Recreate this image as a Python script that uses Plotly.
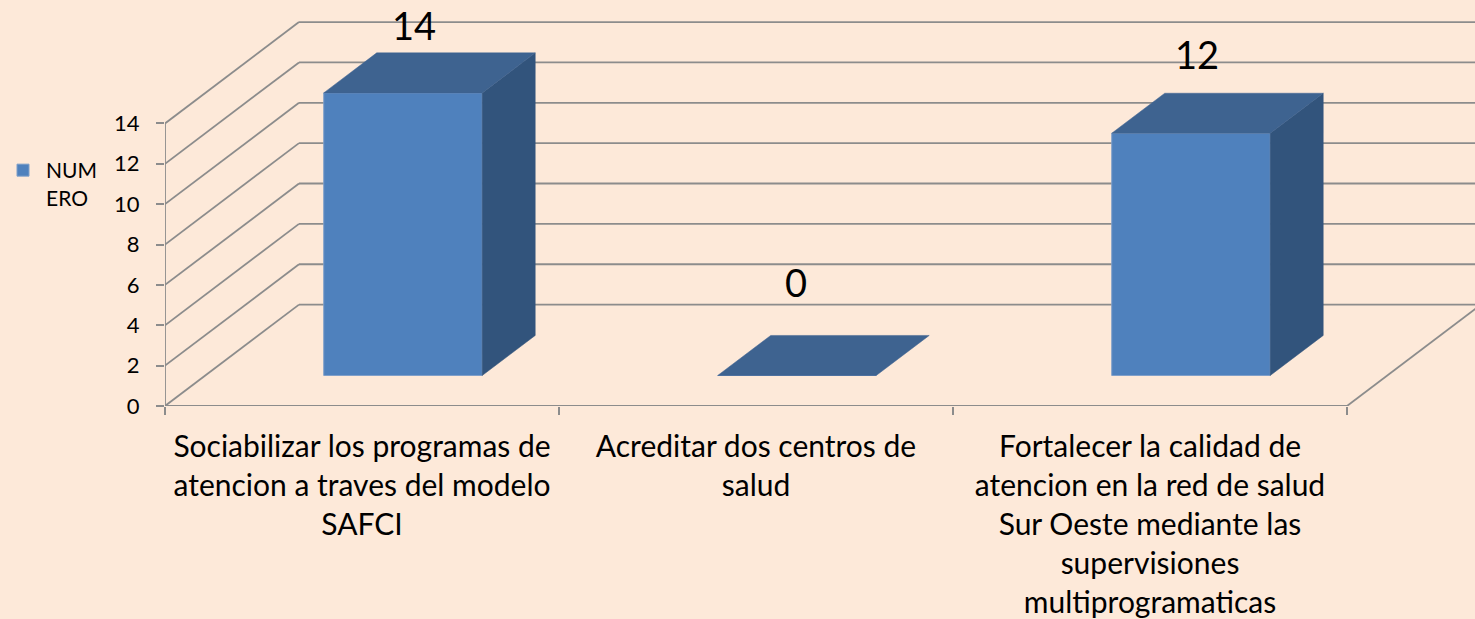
import plotly.graph_objects as go

categories = [
    "Sociabilizar los programas de<br>atencion a traves del modelo<br>SAFCI",
    "Acreditar dos centros de<br>salud",
    "Fortalecer la calidad de<br>atencion en la red de salud<br>Sur Oeste mediante las<br>supervisiones<br>multiprogramaticas",
]
values = [14, 0, 12]
series_name = "NUM<br>ERO"
y_ticks = [0, 2, 4, 6, 8, 10, 12, 14]

# Oblique projection parameters, in axis units
W, H = 1475, 619
L, B = 165, 213.3
PX_X, PX_Y = 394.0, 20.17
WALL_DX, WALL_DY = 134 / PX_X, 101.3 / PX_Y
BAR_DX, BAR_DY = 53 / PX_X, 40 / PX_Y
BAR_W = 158.5 / PX_X
BAR_SHIFT_X, BAR_SHIFT_Y = 0.104, 30.5 / PX_Y
LABEL_XSHIFT = [11, -1, 6]
LABEL_YSHIFT = [68, 93, 79]

BG = "#FDE9D9"
GRID = "#8C8C8C"
FRONT, TOP, SIDE = "#4F81BD", "#3E6390", "#32547C"
FONT = "Lato"
XMAX = (W - L) / PX_X
YMAX = (H - B) / PX_Y
n = len(categories)

fig = go.Figure()
centers = [i + 0.5 + BAR_SHIFT_X for i in range(n)]

fig.add_trace(go.Bar(
    x=centers, y=values, base=BAR_SHIFT_Y, width=BAR_W, name=series_name,
    marker=dict(color=FRONT, line=dict(color="#7F9FC9", width=1)),
    showlegend=True,
))

for c, v in zip(centers, values):
    x0, x1 = c - BAR_W / 2, c + BAR_W / 2
    y0, y1 = BAR_SHIFT_Y, BAR_SHIFT_Y + v
    if v > 0:
        fig.add_trace(go.Scatter(
            x=[x1, x1 + BAR_DX, x1 + BAR_DX, x1, x1],
            y=[y0, y0 + BAR_DY, y1 + BAR_DY, y1, y0],
            mode="lines", fill="toself", fillcolor=SIDE,
            line=dict(color=SIDE, width=0.5), showlegend=False, hoverinfo="skip",
        ))
    fig.add_trace(go.Scatter(
        x=[x0, x1, x1 + BAR_DX, x0 + BAR_DX, x0],
        y=[y1, y1, y1 + BAR_DY, y1 + BAR_DY, y1],
        mode="lines", fill="toself", fillcolor=TOP,
        line=dict(color=TOP, width=0.5), showlegend=False, hoverinfo="skip",
    ))

shapes = []
def seg(x0, y0, x1, y1):
    shapes.append(dict(type="line", xref="x", yref="y", layer="below",
                       x0=x0, y0=y0, x1=x1, y1=y1,
                       line=dict(color=GRID, width=1.8)))

for t in y_ticks:
    seg(0, t, WALL_DX, t + WALL_DY)
    seg(WALL_DX, t + WALL_DY, XMAX, t + WALL_DY)
seg(0, 0, n, 0)
seg(0, 0, 0, max(y_ticks))
seg(n, 0, n + WALL_DX, WALL_DY)

annotations = [
    dict(x=c, y=BAR_SHIFT_Y + v, text=str(v), showarrow=False, xanchor="center", yanchor="middle",
         xshift=dx, yshift=dy, font=dict(family=FONT, size=38, color="#000000"))
    for c, v, dx, dy in zip(centers, values, LABEL_XSHIFT, LABEL_YSHIFT)
]

fig.update_layout(
    width=W, height=H, autosize=False,
    margin=dict(l=L, r=0, t=0, b=B, pad=0),
    paper_bgcolor=BG, plot_bgcolor=BG,
    font=dict(family=FONT, color="#000000"),
    shapes=shapes, annotations=annotations,
    hovermode=False,
    legend=dict(x=0, xref="container", y=1 - 150 / H, yref="container",
                yanchor="top", xanchor="left", valign="top", itemwidth=36,
                bgcolor="rgba(0,0,0,0)",
                font=dict(family=FONT, size=21), itemclick=False),
    xaxis=dict(
        range=[0, XMAX], showgrid=False, zeroline=False, showline=False,
        tickmode="array", tickvals=[i + 0.5 for i in range(n)], ticktext=categories,
        ticks="", tickfont=dict(family=FONT, size=30), automargin=False, tickangle=0,
        ticklabelstandoff=20,
        minor=dict(tickmode="array", tickvals=list(range(n + 1)), ticks="outside",
                   ticklen=8, tickwidth=1.8, tickcolor=GRID, showgrid=False),
    ),
    yaxis=dict(
        range=[0, YMAX], showgrid=False, zeroline=False, showline=False,
        tickmode="array", tickvals=y_ticks, ticks="outside", ticklen=8, tickwidth=1.8,
        tickcolor=GRID, tickfont=dict(family=FONT, size=22), automargin=False,
        ticklabelstandoff=12,
    ),
)

fig.write_html("out.html", config={"displayModeBar": False},
               post_script="document.body.style.margin='0';document.body.style.overflow='hidden';")
